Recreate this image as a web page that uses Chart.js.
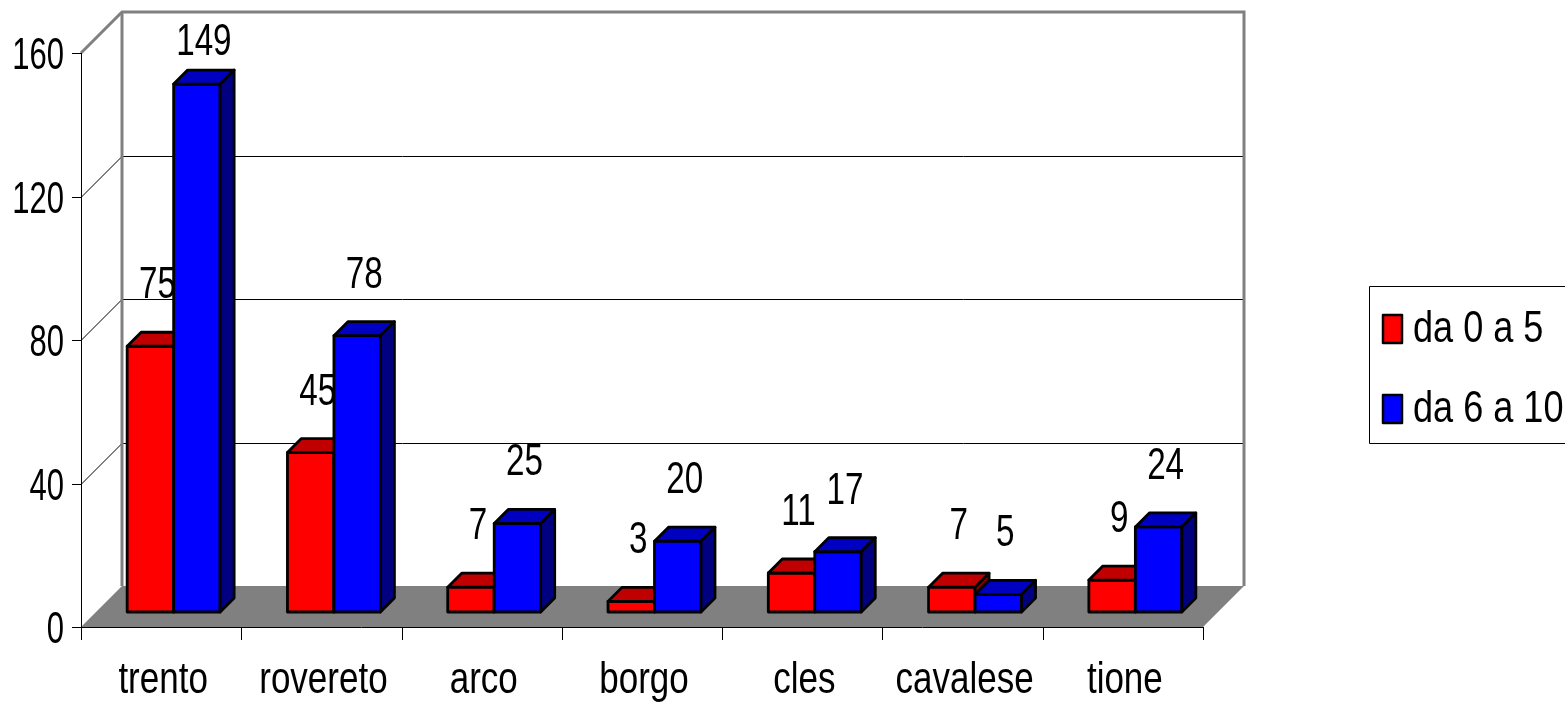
<!DOCTYPE html>
<html>
<head>
<meta charset="utf-8">
<title>Bambini per comprensorio</title>
<script src="https://cdn.jsdelivr.net/npm/chart.js@4.4.1/dist/chart.umd.min.js"></script>
<style>
  html, body { margin: 0; padding: 0; background: #ffffff; overflow: hidden; }
  #wrap { width: 1565px; height: 704px; position: relative; }
</style>
</head>
<body>
<div id="wrap"><canvas id="chart" width="1565" height="704"></canvas></div>
<script>
// ---- data ----
const categories = ['trento', 'rovereto', 'arco', 'borgo', 'cles', 'cavalese', 'tione'];
const seriesNames = ['da 0 a 5', 'da 6 a 10'];
const age0to5 = [75, 45, 7, 3, 11, 7, 9];
const age6to10 = [149, 78, 25, 20, 17, 5, 24];
const yTickValues = [0, 40, 80, 120, 160];

// ---- look ----
const faceColors = [
  { front: '#ff0000', top: '#c00000', side: '#800000' },
  { front: '#0000ff', top: '#0000c0', side: '#000080' }
];
const WALL_DEPTH = 41;     // oblique offset of the back wall
const BAR_SHIFT_X = 12.5;  // bars stand a little way into the box
const BAR_SHIFT_Y = 15;
const BAR_DEPTH = 14;      // thickness of each column

// pick a condensed sans; fall back to squeezing the regular one
function pickFont() {
  const c = document.createElement('canvas').getContext('2d');
  c.font = "44px monospace";
  const ref = c.measureText('trento rovereto').width;
  c.font = "44px 'Liberation Sans Narrow', monospace";
  const w = c.measureText('trento rovereto').width;
  if (Math.abs(w - ref) > 0.5) return { family: "'Liberation Sans Narrow'", sx: 1 };
  return { family: "'Liberation Sans', Arial, sans-serif", sx: 0.82 };
}
const FONT = pickFont();

function drawText(ctx, s, x, y, align, size, sxExtra) {
  ctx.save();
  ctx.font = size + 'px ' + FONT.family;
  ctx.textAlign = align;
  ctx.textBaseline = 'alphabetic';
  ctx.fillStyle = '#000000';
  ctx.translate(x, y);
  ctx.scale(FONT.sx * (sxExtra || 1), 1);
  ctx.fillText(s, 0, 0);
  ctx.restore();
}

function line(ctx, pts, color, width) {
  ctx.beginPath();
  ctx.moveTo(pts[0][0], pts[0][1]);
  for (let i = 1; i < pts.length; i++) ctx.lineTo(pts[i][0], pts[i][1]);
  ctx.strokeStyle = color;
  ctx.lineWidth = width;
  ctx.stroke();
}

function poly(ctx, pts, fill) {
  ctx.beginPath();
  ctx.moveTo(pts[0][0], pts[0][1]);
  for (let i = 1; i < pts.length; i++) ctx.lineTo(pts[i][0], pts[i][1]);
  ctx.closePath();
  ctx.fillStyle = fill;
  ctx.fill();
  ctx.lineJoin = 'round';
  ctx.strokeStyle = '#000000';
  ctx.lineWidth = 2.8;
  ctx.stroke();
}

// back wall, side wall, floor and grid
const boxPlugin = {
  id: 'box3d',
  beforeDatasetsDraw(chart) {
    const ctx = chart.ctx;
    const a = chart.chartArea;
    const y = chart.scales.y;
    const D = WALL_DEPTH;
    const L = a.left, R = a.right;
    const B = y.getPixelForValue(0), T = y.getPixelForValue(160);
    ctx.save();
    // grid lines across side wall and back wall
    yTickValues.forEach(v => {
      if (v === 0 || v === 160) return;
      const py = Math.round(y.getPixelForValue(v)) + 0.5;
      line(ctx, [[L, py], [L + D, py - D], [R + D, py - D]], '#000000', 1);
    });
    // wall edges
    ctx.lineCap = 'butt';
    line(ctx, [[L, T], [L + D, T - D], [R + D, T - D], [R + D, B - D]], '#808080', 3);
    line(ctx, [[L + D, T - D], [L + D, B - D]], '#808080', 3);
    // floor
    ctx.beginPath();
    ctx.moveTo(L, B); ctx.lineTo(R, B); ctx.lineTo(R + D, B - D); ctx.lineTo(L + D, B - D);
    ctx.closePath();
    ctx.fillStyle = '#808080';
    ctx.fill();
    ctx.restore();
  },
  afterDatasetsDraw(chart) {
    const ctx = chart.ctx;
    const a = chart.chartArea;
    const y = chart.scales.y;
    const x = chart.scales.x;
    const L = a.left, R = a.right;
    const B = y.getPixelForValue(0), T = y.getPixelForValue(160);
    const metas = [chart.getDatasetMeta(0), chart.getDatasetMeta(1)];
    const d = BAR_DEPTH;
    ctx.save();
    // columns, left to right, red before blue in each group
    for (let i = 0; i < categories.length; i++) {
      metas.forEach((meta, s) => {
        const el = meta.data[i];
        const p = el.getProps(['x', 'y', 'base', 'width'], true);
        const x0 = p.x - p.width / 2 + BAR_SHIFT_X;
        const x1 = p.x + p.width / 2 + BAR_SHIFT_X;
        const yt = p.y - BAR_SHIFT_Y;
        const yb = p.base - BAR_SHIFT_Y;
        const c = faceColors[s];
        poly(ctx, [[x0, yt], [x1, yt], [x1, yb], [x0, yb]], c.front);
        poly(ctx, [[x0, yt], [x0 + d, yt - d], [x1 + d, yt - d], [x1, yt]], c.top);
        poly(ctx, [[x1, yt], [x1 + d, yt - d], [x1 + d, yb - d], [x1, yb]], c.side);
      });
    }
    // value labels above each column
    metas.forEach((meta, s) => {
      const values = s === 0 ? age0to5 : age6to10;
      meta.data.forEach((el, i) => {
        const p = el.getProps(['x', 'y'], true);
        const cx = p.x + BAR_SHIFT_X + d / 2;
        const topBack = p.y - BAR_SHIFT_Y - d;
        const base = Math.max(55, topBack - 34);
        drawText(ctx, String(values[i]), cx, base, 'center', 45, 0.9);
      });
    });
    // front value axis
    line(ctx, [[L + 0.5, T], [L + 0.5, B]], '#000000', 1);
    yTickValues.forEach(v => {
      const py = Math.round(y.getPixelForValue(v)) + 0.5;
      line(ctx, [[L - 9, py], [L, py]], '#000000', 1);
      drawText(ctx, String(v), L - 17, py + 15.5, 'right', 44, 0.86);
    });
    // category axis
    line(ctx, [[L, B + 0.5], [R, B + 0.5]], '#000000', 1);
    const step = (R - L) / categories.length;
    for (let i = 0; i <= categories.length; i++) {
      const px = Math.round(L + i * step) + 0.5;
      line(ctx, [[px, B], [px, B + 13]], '#000000', 1);
    }
    categories.forEach((name, i) => {
      drawText(ctx, name, x.getPixelForValue(i) + 2, 693, 'center', 44, 0.97);
    });
    // legend
    ctx.strokeStyle = '#000000';
    ctx.lineWidth = 1;
    ctx.strokeRect(1369.5, 286.5, 200, 157);
    seriesNames.forEach((name, s) => {
      const top = 315 + s * 80;
      ctx.fillStyle = faceColors[s].front;
      ctx.fillRect(1383, top, 19, 28);
      ctx.strokeStyle = '#000000';
      ctx.lineWidth = 2.5;
      ctx.strokeRect(1383, top, 19, 28);
      drawText(ctx, name, 1413, top + 27, 'left', 44);
    });
    ctx.restore();
  }
};

new Chart(document.getElementById('chart'), {
  type: 'bar',
  data: {
    labels: categories,
    datasets: [
      { label: seriesNames[0], data: age0to5, yAxisID: 'yBar',
        backgroundColor: 'rgba(0,0,0,0)', borderWidth: 0,
        categoryPercentage: 0.58, barPercentage: 1.0 },
      { label: seriesNames[1], data: age6to10, yAxisID: 'yBar',
        backgroundColor: 'rgba(0,0,0,0)', borderWidth: 0,
        categoryPercentage: 0.58, barPercentage: 1.0 }
    ]
  },
  options: {
    responsive: false,
    animation: false,
    devicePixelRatio: 1,
    layout: { padding: { left: 81, top: 53, right: 362, bottom: 77 } },
    plugins: { legend: { display: false }, tooltip: { enabled: false } },
    scales: {
      x: { type: 'category', display: false, offset: true },
      // front value axis, where the tick labels sit
      y: { type: 'linear', display: false, min: 0, max: 160 },
      // columns stand back in the box, so their vertical run is a touch shorter
      yBar: { type: 'linear', display: false, min: 0, max: 162 }
    }
  },
  plugins: [boxPlugin]
});
</script>
</body>
</html>
